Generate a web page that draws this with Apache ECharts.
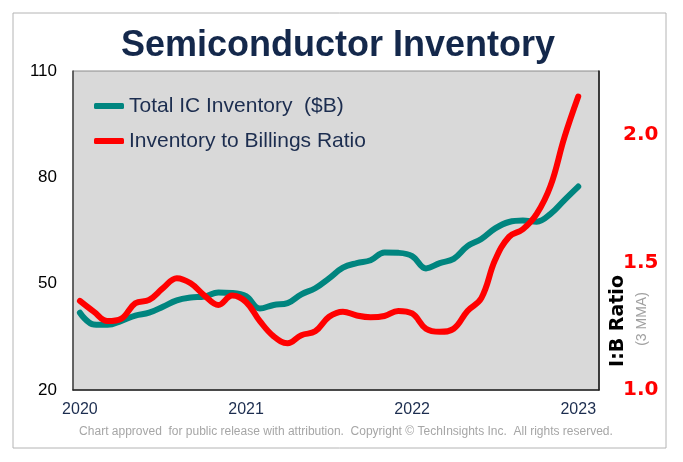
<!DOCTYPE html>
<html>
<head>
<meta charset="utf-8">
<script src="https://cdn.jsdelivr.net/npm/echarts@6/dist/echarts.min.js"></script>
<style>
html,body{margin:0;padding:0;background:#fff;}
#chart{width:683px;height:462px;}
</style>
</head>
<body>
<div id="chart"></div>
<script>
// Month index 0 = Jan 2020 ... 36 = Jan 2023
const months = [0,1,2,3,4,5,6,7,8,9,10,11,12,13,14,15,16,17,18,19,20,21,22,23,24,25,26,27,28,29,30,31,32,33,34,35,36];
const yearTicks = [0, 12, 24, 36];
const yearLabels = ['2020', '2021', '2022', '2023'];
// Total IC Inventory ($B)
const inventory = [41.8,38.5,38.4,39.5,41.0,41.8,43.5,45.3,46.1,46.4,47.5,47.4,46.5,43.0,44.0,44.5,47.0,48.7,51.5,54.5,55.8,56.6,58.8,58.7,57.8,54.3,55.8,57.0,60.6,62.6,65.6,67.4,67.8,67.5,69.7,73.6,77.4];
// Inventory to Billings Ratio (3 MMA)
const ratio = [1.349,1.307,1.27,1.28,1.34,1.353,1.399,1.438,1.418,1.37,1.333,1.37,1.345,1.27,1.21,1.183,1.215,1.23,1.287,1.307,1.292,1.285,1.29,1.31,1.30,1.24,1.228,1.24,1.31,1.36,1.51,1.60,1.63,1.69,1.80,1.99,2.15];

const chart = echarts.init(document.getElementById('chart'), null, {renderer: 'canvas'});
const navy = '#1c2d4f';
chart.setOption({
  animation: false,
  backgroundColor: '#ffffff',
  title: {
    text: 'Semiconductor Inventory',
    left: 116,
    top: 23,
    textStyle: {fontFamily: 'Liberation Sans, Arial', fontWeight: 'bold', fontSize: 36, color: '#14284b'}
  },
  legend: {
    orient: 'vertical',
    left: 94,
    top: 94,
    padding: 0,
    icon: 'roundRect',
    itemWidth: 30,
    itemHeight: 6,
    itemGap: 11,
    textStyle: {fontFamily: 'Liberation Sans, Arial', fontSize: 21, color: navy, lineHeight: 24},
    data: ['Total IC Inventory  ($B)', 'Inventory to Billings Ratio']
  },
  grid: {
    left: 73, right: 84, top: 71, bottom: 72,
    show: true,
    backgroundColor: '#d9d9d9',
    borderColor: '#8c8c8c',
    borderWidth: 1
  },
  xAxis: {
    type: 'value',
    min: -0.5,
    max: 37.5,
    axisLine: {show: true, onZero: false, lineStyle: {color: '#222', width: 1.5}},
    axisTick: {show: false},
    splitLine: {show: false},
    axisLabel: {
      customValues: yearTicks,
      margin: 12,
      fontFamily: 'Liberation Sans, Arial',
      fontSize: 16,
      color: navy,
      formatter: function (v) { const k = yearTicks.indexOf(Math.round(v)); return k >= 0 ? yearLabels[k] : ''; }
    }
  },
  yAxis: [
    {
      type: 'value',
      min: 20, max: 110, interval: 30,
      axisLine: {show: true, onZero: false, lineStyle: {color: '#444', width: 1.5}},
      axisTick: {show: false},
      splitLine: {show: false},
      axisLabel: {margin: 16, fontFamily: 'Liberation Sans, Arial', fontSize: 17, color: '#000'}
    },
    {
      type: 'value',
      position: 'right',
      min: 1.0, max: 2.25, interval: 0.5,
      axisLine: {show: true, onZero: false, lineStyle: {color: '#111', width: 1.5}},
      axisTick: {show: false},
      splitLine: {show: false},
      axisLabel: {
        margin: 24,
        fontFamily: 'DejaVu Sans',
        fontWeight: 'bold',
        fontSize: 20,
        color: '#ff0000',
        formatter: function (v) { return Math.abs(v * 2 - Math.round(v * 2)) < 1e-6 ? v.toFixed(1) : ''; }
      }
    }
  ],
  series: [
    {
      name: 'Total IC Inventory  ($B)',
      type: 'line',
      yAxisIndex: 0,
      smooth: 0.4,
      showSymbol: false,
      symbol: 'none',
      lineStyle: {color: '#00857f', width: 6, cap: 'round'},
      itemStyle: {color: '#00857f'},
      data: months.map((m, i) => [m, inventory[i]]),
      z: 2
    },
    {
      name: 'Inventory to Billings Ratio',
      type: 'line',
      yAxisIndex: 1,
      smooth: 0.4,
      showSymbol: false,
      symbol: 'none',
      lineStyle: {color: '#ff0000', width: 6, cap: 'round'},
      itemStyle: {color: '#ff0000'},
      data: months.map((m, i) => [m, ratio[i]]),
      z: 3
    }
  ],
  graphic: [
    {
      type: 'rect', z: -10, silent: true,
      shape: {x: 13, y: 13, width: 653, height: 435},
      style: {fill: 'none', stroke: '#b4b4b4', lineWidth: 1}
    },
    {
      type: 'text', x: 618, y: 321, rotation: Math.PI / 2,
      style: {text: 'I:B Ratio', fontFamily: 'DejaVu Sans', fontWeight: 'bold', fontSize: 19, fill: '#000', align: 'center', verticalAlign: 'middle'}
    },
    {
      type: 'text', x: 642, y: 319, rotation: Math.PI / 2,
      style: {text: '(3 MMA)', fontFamily: 'Liberation Sans, Arial', fontSize: 14, fill: '#a0a0a0', align: 'center', verticalAlign: 'middle'}
    },
    {
      type: 'text', x: 346, y: 432,
      style: {text: 'Chart approved  for public release with attribution.  Copyright \u00a9 TechInsights Inc.  All rights reserved.', fontFamily: 'Liberation Sans, Arial', fontSize: 12, fill: '#a6a6a6', align: 'center', verticalAlign: 'middle'}
    }
  ]
});
</script>
</body>
</html>
